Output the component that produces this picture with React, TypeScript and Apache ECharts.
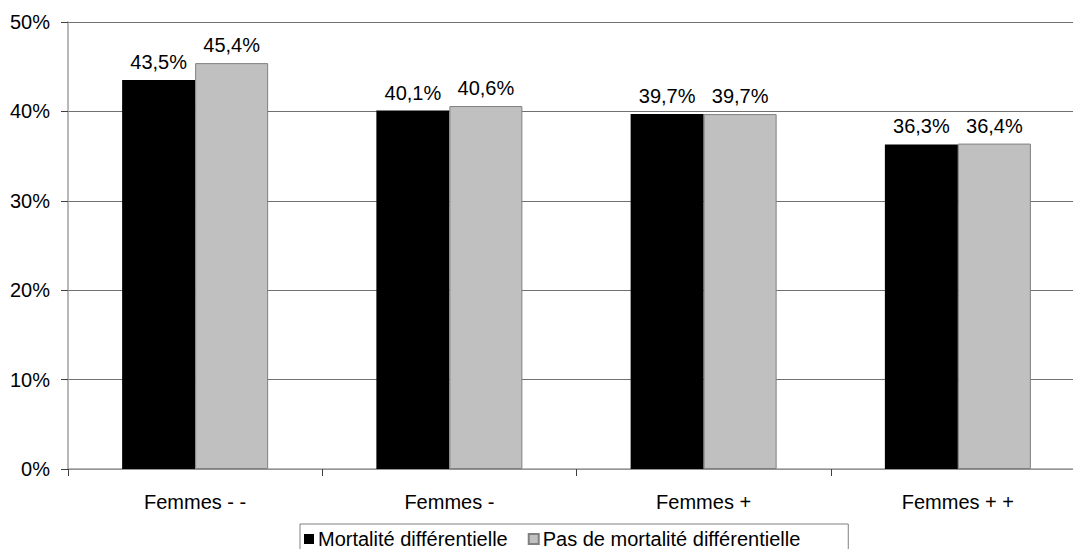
import React, { useEffect, useRef } from "react";
import * as echarts from "echarts";

const categories = ["Femmes - -", "Femmes -", "Femmes +", "Femmes + +"];
const seriesNames = ["Mortalité différentielle", "Pas de mortalité différentielle"];
const mortaliteDiff = [43.5, 40.1, 39.7, 36.3];
const pasMortaliteDiff = [45.4, 40.6, 39.7, 36.4];

const FONT = "'Liberation Sans', Arial, sans-serif";
const FS = 20;

const fmtPct = (v: number) => v.toFixed(1).replace(".", ",") + "%";

export default function App() {
  const ref = useRef<HTMLDivElement>(null);

  useEffect(() => {
    if (!ref.current) return;
    const chart = echarts.init(ref.current, null, { renderer: "svg" });
    const barLabel = {
      show: true,
      position: "top",
      distance: 8,
      fontFamily: FONT,
      fontSize: FS,
      color: "#000",
      formatter: (p: any) => fmtPct(p.value),
    };
    chart.setOption({
      animation: false,
      textStyle: { fontFamily: FONT, color: "#000" },
      // plot area runs past the right edge of the visible frame
      grid: { left: 68, top: 22, right: 5, bottom: 80, containLabel: false },
      legend: {
        left: 300,
        top: 524,
        padding: [5, 48, 12, 4],
        borderColor: "#808080",
        borderWidth: 1,
        itemWidth: 10,
        itemHeight: 10,
        itemGap: 20,
        icon: "rect",
        textStyle: { fontFamily: FONT, fontSize: FS, color: "#000", padding: [0, 0, 0, -1] },
        data: seriesNames,
      },
      xAxis: {
        type: "category",
        data: categories,
        axisLine: { show: true, lineStyle: { color: "#a0a0a0", width: 1.5 } },
        axisTick: { show: true, length: 7, inside: false, lineStyle: { color: "#404040" } },
        axisLabel: { fontFamily: FONT, fontSize: FS, color: "#000", margin: 23 },
      },
      yAxis: {
        type: "value",
        min: 0,
        max: 50,
        interval: 10,
        axisLine: { show: true, lineStyle: { color: "#a0a0a0", width: 1.5 } },
        axisTick: { show: true, length: 7, inside: false, lineStyle: { color: "#404040" } },
        axisLabel: {
          fontFamily: FONT,
          fontSize: FS,
          color: "#000",
          margin: 18,
          formatter: (v: number) => v + "%",
        },
        splitLine: { show: true, lineStyle: { color: "#707070", width: 1 } },
      },
      series: [
        {
          name: seriesNames[0],
          type: "bar",
          data: mortaliteDiff,
          barWidth: 73,
          barGap: "0%",
          itemStyle: { color: "#000000" },
          label: barLabel,
        },
        {
          name: seriesNames[1],
          type: "bar",
          data: pasMortaliteDiff,
          barWidth: 73,
          barGap: "0%",
          itemStyle: { color: "#c0c0c0", borderColor: "#808080", borderWidth: 1 },
          label: barLabel,
        },
      ],
    });
    return () => chart.dispose();
  }, []);

  return (
    <div
      style={{
        position: "absolute",
        left: 0,
        top: 0,
        width: 1073,
        height: 549,
        overflow: "hidden",
        background: "#fff",
      }}
    >
      <div ref={ref} style={{ width: 1090, height: 549 }} />
    </div>
  );
}
